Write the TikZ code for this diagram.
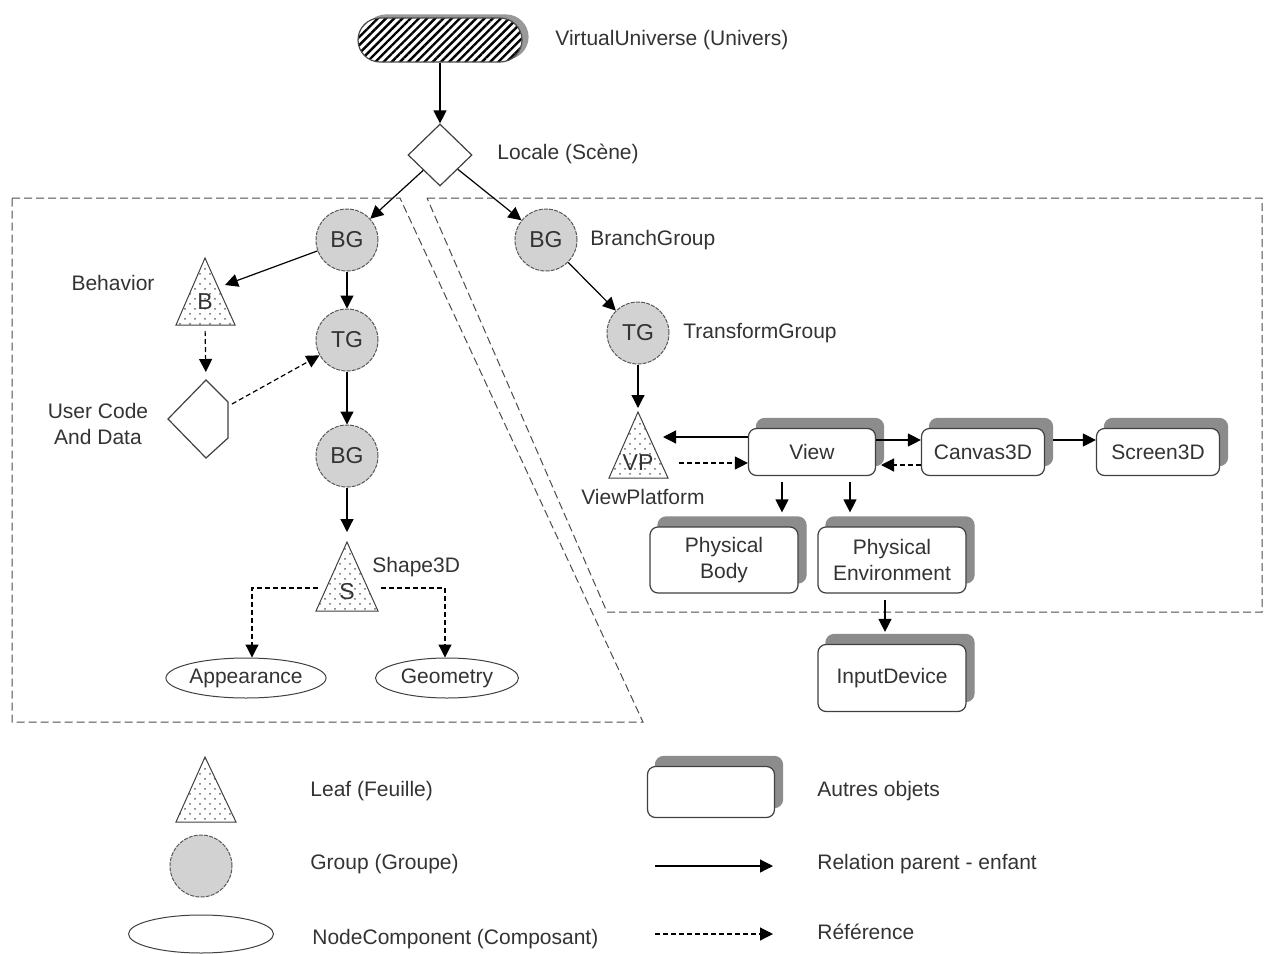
\documentclass[tikz,border=0pt]{standalone}
\usepackage{fontspec}
\setmainfont{Liberation Sans}
\usetikzlibrary{arrows.meta,shapes.geometric,shapes.misc,shadows,patterns,patterns.meta,calc}

\tikzdeclarepattern{
  name=leafdots,
  type=uncolored,
  bottom left={(-0.6pt,-0.6pt)},
  top right={(4.6pt,4.6pt)},
  tile size={(5pt,5pt)},
  code={
    \pgfpathcircle{\pgfpoint{0pt}{0pt}}{0.5pt}
    \pgfpathcircle{\pgfpoint{2.5pt}{2.5pt}}{0.5pt}
    \pgfusepath{fill}
  }
}

\begin{document}
\begin{tikzpicture}[x=0.5pt,y=-0.5pt,
  txt/.style={font=\fontsize{10.5}{13}\selectfont, text=black!80, inner sep=0pt},
  lbl/.style={txt, anchor=west},
  grp/.style={circle, draw=black!65, line width=0.5pt, dash pattern=on 2pt off 0.6pt, fill=gray!35,
    minimum size=31pt, inner sep=0pt, font=\fontsize{11.5}{13}\selectfont, text=black!80},
  leaf/.style={draw=black!75, line width=0.5pt, pattern=leafdots, pattern color=black!60},
  leaftxt/.style={inner sep=0pt, font=\fontsize{11.5}{13}\selectfont, text=black!80},
  comp/.style={ellipse, draw=black!75, line width=0.5pt, fill=white, inner sep=0pt, txt},
  obj/.style={rectangle, rounded corners=4pt, draw=black!75, line width=0.6pt, fill=white,
    inner sep=0pt, txt, align=center,
    copy shadow={shadow xshift=4pt, shadow yshift=5pt, fill=black!45, draw=black!45}},
  vu/.style={rectangle, rounded corners=11pt, minimum width=82pt, minimum height=22pt, inner sep=0pt,
    draw=black!70, line width=0.6pt,
    copy shadow={shadow xshift=3pt, shadow yshift=1.5pt, fill=black!40, draw=black!40},
    preaction={fill=white},
    pattern={Lines[angle=45,distance=2.9pt,line width=1.2pt]}, pattern color=black},
  arr/.style={draw=black, line width=0.6pt, -{Triangle[length=6.5pt,width=6.5pt]}},
  refarr/.style={arr, dash pattern=on 2.5pt off 1.5pt},
  region/.style={draw=black!70, line width=0.5pt, dash pattern=on 4pt off 2pt},
]
\useasboundingbox (0,0) rectangle (1266,954);

% regions
\draw[region] (12,198) -- (400,198) -- (643,722) -- (12,722) -- cycle;
\draw[region] (427,198) -- (1262,198) -- (1262,612) -- (607,612) -- cycle;

% top
\node[vu] (VU) at (440,40) {};
\node[lbl] (VUl) at (555,40) {VirtualUniverse (Univers)};
\node[diamond, draw=black!75, line width=0.6pt, fill=white, minimum width=32pt, minimum height=31pt, inner sep=0pt] (Loc) at (440,155) {};
\node[lbl] (Locl) at (497,154) {Locale (Scène)};

% groups
\node[grp] (BG1) at (347,240) {BG};
\node[grp] (TG1) at (347,340) {TG};
\node[grp] (BG3) at (347,456) {BG};
\node[grp] (BG2) at (546,240) {BG};
\node[lbl] (BG2l) at (590,240) {BranchGroup};
\node[grp] (TG2) at (638,333) {TG};
\node[lbl] (TG2l) at (683,333) {TransformGroup};

% Behavior
\draw[leaf] (205,258) -- (235,325) -- (176,325) -- cycle;
\node[leaftxt] (B) at (205,302) {B};
\coordinate (Btop) at (205,258);
\coordinate (Bbot) at (205,325);
\coordinate (Bside) at (225,285);
\node[txt] (Bl) at (113,283) {Behavior};

% User code
\draw[draw=black!75, line width=0.6pt] (206,380) -- (228,402) -- (228,438) -- (206,458) -- (168,419) -- cycle;
\coordinate (UCtop) at (206,380);
\coordinate (UCr) at (232,404);
\node[txt, align=center] (UCl) at (98,424) {User Code\\And Data};

% Shape3D
\draw[leaf] (347,542) -- (378,611) -- (316,611) -- cycle;
\node[leaftxt] (S) at (347,592) {S};
\coordinate (Stop) at (347,542);
\coordinate (Sl) at (318,588);
\coordinate (Sr) at (381,588);
\node[lbl] (Sl3) at (372,567) {Shape3D};
\node[comp, minimum width=74pt, minimum height=20pt] (App) at (246,678) {Appearance};
\node[comp, minimum width=71.5pt, minimum height=20pt] (Geo) at (447,678) {Geometry};

% ViewPlatform
\draw[leaf] (638,412) -- (668,478) -- (609,478) -- cycle;
\node[leaftxt] (VP) at (638,463) {VP};
\coordinate (VPtop) at (638,412);
\coordinate (VPr) at (663,437);
\coordinate (VPd) at (679,463);
\node[txt] (VPl) at (643,497) {ViewPlatform};

% other objects
\node[obj, minimum width=63.5pt, minimum height=23.5pt] (View) at (812,452) {View};
\node[obj, minimum width=61.5pt, minimum height=23.5pt] (C3) at (983,452) {Canvas3D};
\node[obj, minimum width=61.5pt, minimum height=23.5pt] (S3) at (1158,452) {Screen3D};
\node[obj, minimum width=74pt, minimum height=33pt] (PB) at (724,560) {Physical\\Body};
\node[obj, minimum width=74pt, minimum height=33pt] (PE) at (892,560) {Physical\\Environment};
\node[obj, minimum width=74pt, minimum height=33.5pt] (ID) at (892,678) {InputDevice};
\coordinate (Vin) at (881,465);

% connectors left
\draw[arr] (VU) -- (Loc);
\draw[arr] (Loc) -- (BG1);
\draw[arr] (Loc) -- (BG2);
\draw[arr] (BG1) -- (Bside);
\draw[arr] (BG1) -- (TG1);
\draw[arr] (TG1) -- (BG3);
\draw[arr, shorten >=5pt] (BG3) -- (Stop);
\draw[refarr, shorten <=3pt, shorten >=4pt] (Bbot) -- (UCtop);
\draw[refarr] (UCr) -- (TG1);
\draw[refarr] (Sl) -| ([xshift=3pt]App.north);
\draw[refarr] (Sr) -| ([xshift=-1pt]Geo.north);

% connectors right
\draw[arr] (BG2) -- (TG2);
\draw[arr, shorten >=2pt] (TG2) -- (VPtop);
\draw[arr] (View.west |- 0,437) -- (VPr);
\draw[refarr] (VPd) -- (View.west |- 0,463);
\draw[arr] (View.east |- 0,440) -- (C3.west |- 0,440);
\draw[refarr] (C3.west |- 0,465) -- (Vin);
\draw[arr] ([xshift=4pt]C3.east |- 0,440) -- (S3.west |- 0,440);
\draw[arr, shorten <=3pt, shorten >=7pt] (View.south -| 782,0) -- (PB.north -| 782,0);
\draw[arr, shorten <=3pt, shorten >=7pt] (View.south -| 850,0) -- (PE.north -| 850,0);
\draw[arr, shorten <=3pt, shorten >=6pt] (PE.south -| 885,0) -- (ID.north -| 885,0);

% legend
\draw[leaf] (205,757) -- (236,822) -- (176,822) -- cycle;
\node[lbl] (L1) at (310,791) {Leaf (Feuille)};
\node[grp] (LG) at (201,866) {};
\node[lbl] (L2) at (310,864) {Group (Groupe)};
\node[comp, minimum width=72.5pt, minimum height=19pt] (LE) at (201,934) {};
\node[lbl] (L3) at (312,939) {NodeComponent (Composant)};
\node[obj, minimum width=63.5pt, minimum height=25.5pt] (LB) at (711,792) {};
\node[lbl] (L4) at (817,791) {Autres objets};
\coordinate (LA1) at (655,866);
\coordinate (LA2) at (773,866);
\draw[arr] (LA1) -- (LA2);
\node[lbl] (L5) at (817,864) {Relation parent - enfant};
\coordinate (LR1) at (655,934);
\coordinate (LR2) at (773,934);
\draw[refarr] (LR1) -- (LR2);
\node[lbl] (L6) at (817,932) {Référence};
\end{tikzpicture}
\end{document}
